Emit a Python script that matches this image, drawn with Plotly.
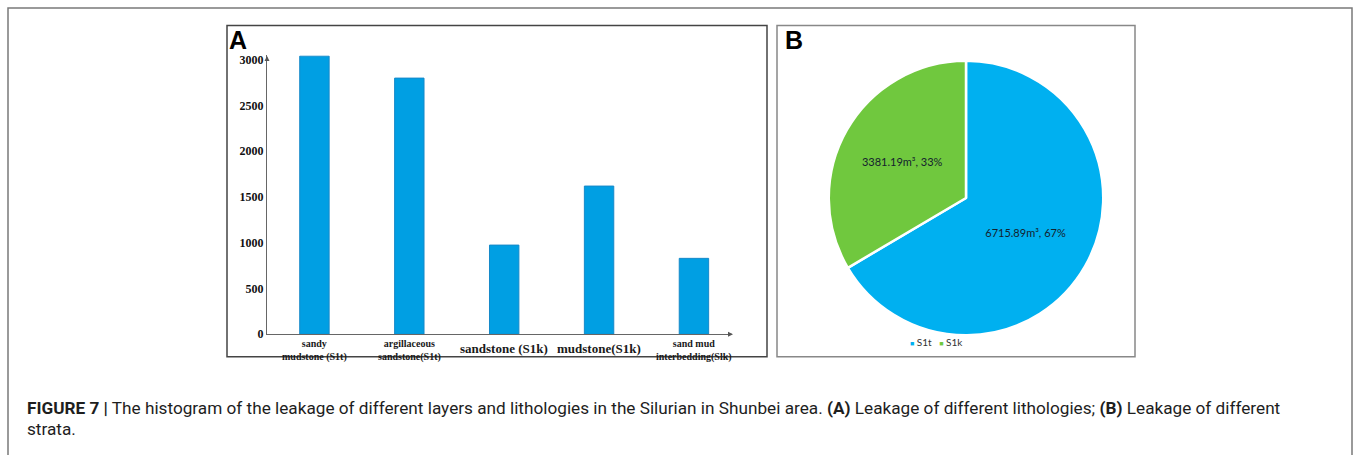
import plotly.graph_objects as go

# Leakage by lithology (panel A)
lithologies = [
    "sandy<br>mudstone (S1t)",
    "argillaceous<br>sandstone(S1t)",
    "sandstone (S1k)",
    "mudstone(S1k)",
    "sand mud<br>interbedding(Slk)",
]
label_sizes = [10, 10, 13, 13, 10]
leakage = [3040, 2800, 975, 1620, 830]
y_ticks = [0, 500, 1000, 1500, 2000, 2500, 3000]

# Leakage by stratum (panel B)
strata = ["S1t", "S1k"]
strata_volume = [6715.89, 3381.19]
strata_colors = ["#00B0F0", "#70C83E"]

W, H = 1356, 455


def px(x):
    return x / W


def py(y):
    return 1 - y / H


fig = go.Figure()

fig.add_trace(go.Bar(
    x=list(range(len(leakage))),
    y=leakage,
    width=0.31,
    marker=dict(color="#009FE3", line=dict(color="#1689C9", width=1)),
    showlegend=False,
    xaxis="x", yaxis="y",
))

fig.add_trace(go.Pie(
    labels=strata,
    values=strata_volume,
    sort=False,
    direction="clockwise",
    rotation=0,
    marker=dict(colors=strata_colors, line=dict(color="white", width=2.5)),
    texttemplate="%{value:.2f}m³, %{percent:.0%}",
    textposition="inside",
    insidetextorientation="horizontal",
    textfont=dict(family="Lato", size=11, color="#14222e"),
    domain=dict(x=[px(826), px(1106)], y=[py(340), py(60)]),
    showlegend=False,
    hoverinfo="label+value+percent",
))

fig.update_layout(
    width=W, height=H,
    margin=dict(l=0, r=0, t=0, b=0),
    paper_bgcolor="white",
    plot_bgcolor="white",
    xaxis=dict(
        domain=[px(267), px(730)],
        range=[-0.5, 4.38],
        tickmode="array",
        tickvals=list(range(len(leakage))),
        showticklabels=False,
        showline=True, linecolor="#666", linewidth=1,
        showgrid=False, zeroline=False, ticks="",
        fixedrange=True,
    ),
    yaxis=dict(
        domain=[py(339), py(54.3)],
        range=[0, 3050],
        tickmode="array",
        tickvals=y_ticks,
        ticktext=[f"<b>{v}</b>" for v in y_ticks],
        tickfont=dict(family="Liberation Serif", size=12, color="#111"),
        showline=True, linecolor="#666", linewidth=1,
        showgrid=False, zeroline=False, ticks="",
        ticklabelstandoff=0,
        fixedrange=True,
    ),
)

shapes = [
    # outer frame
    dict(type="rect", xref="paper", yref="paper",
         x0=px(8), x1=px(1352), y0=py(470), y1=py(6),
         line=dict(color="#7a7a7a", width=1.5)),
    # panel A box
    dict(type="rect", xref="paper", yref="paper",
         x0=px(227), x1=px(767), y0=py(362), y1=py(24),
         line=dict(color="#444", width=1.5)),
    # panel B box
    dict(type="rect", xref="paper", yref="paper",
         x0=px(777), x1=px(1135), y0=py(362), y1=py(24),
         line=dict(color="#888", width=1.5)),
]
fig.update_layout(shapes=shapes)

annotations = [
    # axis arrowheads
    dict(x=px(267), y=py(55), xref="paper", yref="paper", ax=0, ay=6,
         showarrow=True, arrowhead=2, arrowsize=1, arrowwidth=1, arrowcolor="#555", text=""),
    dict(x=px(733), y=py(339), xref="paper", yref="paper", ax=-6, ay=0,
         showarrow=True, arrowhead=2, arrowsize=1, arrowwidth=1, arrowcolor="#555", text=""),
    # panel letters
    dict(x=px(227), y=py(39), xref="paper", yref="paper", xanchor="left", yanchor="middle",
         text="<b>A</b>", showarrow=False,
         font=dict(family="Liberation Sans", size=25, color="black")),
    dict(x=px(783), y=py(39), xref="paper", yref="paper", xanchor="left", yanchor="middle",
         text="<b>B</b>", showarrow=False,
         font=dict(family="Liberation Sans", size=25, color="black")),
    # legend for panel B
    dict(x=px(936), y=py(347), xref="paper", yref="paper", xanchor="center", yanchor="middle",
         text="   ".join(f"<span style='color:{c};font-size:7px'>■</span> {s}"
                        for s, c in zip(strata, strata_colors)),
         showarrow=False, font=dict(family="Lato", size=10, color="#333")),
    # caption
    dict(x=px(25), y=py(414), xref="paper", yref="paper", xanchor="left", yanchor="middle",
         text="<b>FIGURE 7 |</b> The histogram of the leakage of different layers and lithologies in the "
              "Silurian in Shunbei area. <b>(A)</b> Leakage of different lithologies; "
              "<b>(B)</b> Leakage of different",
         showarrow=False, font=dict(family="Roboto", size=17.2, color="#1e1e1e")),
    dict(x=px(25), y=py(436), xref="paper", yref="paper", xanchor="left", yanchor="middle",
         text="strata.", showarrow=False, font=dict(family="Roboto", size=17.2, color="#1e1e1e")),
]

# category labels under the bars, placed on the x axis categories
for i, (name, size) in enumerate(zip(lithologies, label_sizes)):
    two_line = "<br>" in name
    annotations.append(dict(
        x=i, y=py(356 if two_line else 353), xref="x", yref="paper",
        xanchor="center", yanchor="middle",
        text=f"<b>{name}</b>", showarrow=False,
        font=dict(family="Liberation Serif", size=size, color="#1a1a1a"),
    ))

fig.update_layout(annotations=annotations)

fig.write_html("out.html")
